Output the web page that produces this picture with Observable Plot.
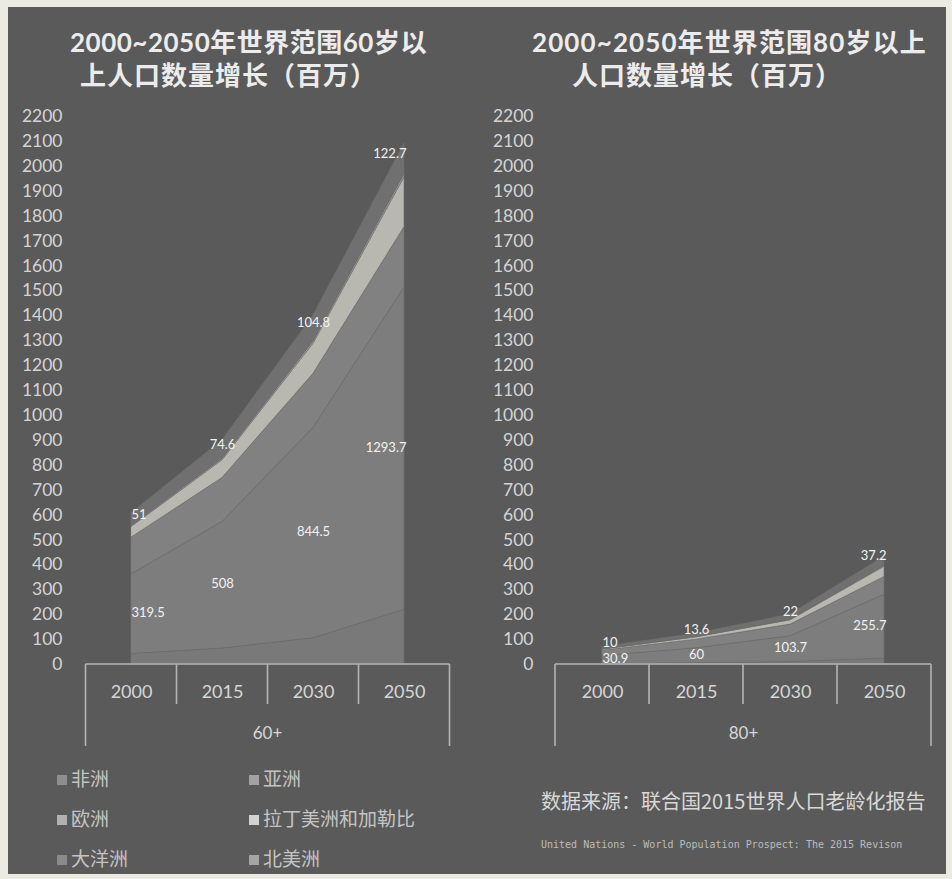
<!DOCTYPE html>
<html><head><meta charset="utf-8">
<script src="https://cdn.jsdelivr.net/npm/d3@7"></script>
<script src="https://cdn.jsdelivr.net/npm/@observablehq/plot@0.6"></script>
<style>
body{margin:0;background:#ebebe3;}
#page{position:relative;width:952px;height:879px;overflow:hidden;background:#ebebe3;}
#panel{position:absolute;left:8px;top:7px;width:938px;height:867px;background:#5a5a5a;}
.plot{position:absolute;top:0;}
.title{position:absolute;font-family:Lato,"Noto Sans CJK SC";font-weight:bold;font-size:26px;color:#ececec;white-space:nowrap;line-height:33px;}
.title span{display:block;}
.leg{position:absolute;font-family:"Noto Sans CJK SC";font-size:19px;color:#c4c4c4;white-space:nowrap;line-height:24px;}
.leg i{display:inline-block;width:10px;height:10px;margin-right:4px;vertical-align:1px;}
.src{position:absolute;font-family:"Noto Sans CJK SC";font-size:20px;color:#d8d8d8;white-space:nowrap;line-height:26px;}
.en{position:absolute;font-family:"DejaVu Sans Mono";font-size:10px;color:#bcbcbc;white-space:nowrap;}
</style></head>
<body><div id="page"><div id="panel"></div></div>
<script>
const years = ["2000", "2015", "2030", "2050"];
const regions = ["非洲", "亚洲", "欧洲", "拉丁美洲和加勒比", "大洋洲", "北美洲"];
// 60岁以上 (百万)
const africa60 = [42.4, 64.4, 105.4, 220.3];
const asia60 = [319.5, 508.0, 844.5, 1293.7];
const europe60 = [147.3, 176.5, 217.2, 242.0];
const latam60 = [42.7, 70.9, 121.0, 200.0];
const oceania60 = [4.1, 6.5, 9.6, 13.2];
const northAmerica60 = [51.0, 74.6, 104.8, 122.7];
// 80岁以上 (百万)
const africa80 = [2.9, 5.2, 9.6, 24.1];
const asia80 = [30.9, 60.0, 103.7, 255.7];
const europe80 = [21.6, 34.6, 46.8, 71.3];
const latam80 = [4.6, 9.5, 17.4, 41.5];
const oceania80 = [0.7, 1.1, 1.8, 3.7];
const northAmerica80 = [10.0, 13.6, 22.0, 37.2];
const yTicks = d3.range(0, 2201, 100);
const colors = ["#797979", "#7d7d7d", "#818181", "#b8b8b0", "#a0a0a0", "#707070"];
const legendColors = ["#8e8e8e", "#a2a2a2", "#b0b0b0", "#d2d2d2", "#8a8a8a", "#a4a4a4"];

function table(series) {
  const rows = [];
  regions.forEach((r, i) => years.forEach((y, j) => rows.push({region: r, year: y, value: series[i][j]})));
  return rows;
}
const data60 = table([africa60, asia60, europe60, latam60, oceania60, northAmerica60]);
const data80 = table([africa80, asia80, europe80, latam80, oceania80, northAmerica80]);

function labelMarks(data, region, dy) {
  const groups = [[["2000"], "start", 0], [["2015", "2030"], "middle", 0], [["2050"], "end", 2]];
  return groups.map(([sel, anchor, dx]) => Plot.text(data, Plot.stackY({
    x: "year", y: "value", z: "region",
    text: d => (d.region === region && sel.includes(d.year)) ? String(d.value).replace(/\.0$/, "") : null,
    textAnchor: anchor, dx, dy, fill: "#f2f2f2", fontSize: 13, fontFamily: "Lato"
  })));
}

function makePlot(data, left, marginLeft, marginRight, group) {
  const W = 476, H = 760;
  const plot = Plot.plot({
    width: W, height: H,
    marginTop: 116, marginBottom: 96, marginLeft, marginRight,
    style: {background: "transparent", color: "#d2d2d2", fontFamily: "Lato", overflow: "visible"},
    x: {type: "point", domain: years, padding: 0.5},
    y: {domain: [0, 2200]},
    color: {domain: regions, range: colors},
    marks: [
      Plot.areaY(data, Plot.stackY({x: "year", y: "value", z: "region", fill: "region", stroke: "#6b6b6b", strokeWidth: 0.6, curve: "linear"})),
      ...labelMarks(data, "亚洲", -1),
      ...labelMarks(data, "北美洲", -5),
      Plot.axisY({ticks: yTicks, tickFormat: d3.format("d"), tickSize: 0, tickPadding: 22, fontSize: 17.5, label: null, fill: "#d4d4d4"}),
      Plot.axisX({tickSize: 0, tickPadding: 21, fontSize: 18, label: null, fill: "#d6d6d6"}),
      Plot.text([group], {text: d => d, frameAnchor: "bottom", lineAnchor: "middle", dy: 69, fontSize: 17, fill: "#d6d6d6"})
    ]
  });
  plot.classList.add("plot");
  plot.style.left = left + "px";
  const x = plot.scale("x"), y = plot.scale("y");
  const step = x.apply(years[1]) - x.apply(years[0]);
  const y0 = y.apply(0);
  const svg = d3.select(plot);
  const g = svg.append("g").attr("stroke", "#b4b4b4").attr("stroke-width", 1.6);
  const x0 = x.apply(years[0]) - step / 2, x1 = x.apply(years[years.length - 1]) + step / 2;
  g.append("line").attr("x1", x0).attr("x2", x1).attr("y1", y0).attr("y2", y0);
  years.forEach((yr, i) => {
    const bx = x.apply(yr) - step / 2;
    g.append("line").attr("x1", bx).attr("x2", bx).attr("y1", y0).attr("y2", i === 0 ? y0 + 82 : y0 + 40);
  });
  g.append("line").attr("x1", x1).attr("x2", x1).attr("y1", y0).attr("y2", y0 + 82);
  document.getElementById("page").appendChild(plot);
}

makePlot(data60, 0, 84, 26, "60+");
makePlot(data80, 476, 79, 21, "80+");

const page = document.getElementById("page");
function addDiv(cls, text, style) {
  const d = document.createElement("div");
  d.className = cls; d.innerHTML = text;
  Object.assign(d.style, style);
  page.appendChild(d);
  return d;
}
addDiv("title", '<span style="letter-spacing:0.5px">2000~2050年世界范围60岁以</span><span style="padding-left:10px;letter-spacing:1px">上人口数量增长（百万）</span>', {left: "70px", top: "26px"});
addDiv("title", '<span style="letter-spacing:1.1px">2000~2050年世界范围80岁以上</span><span style="padding-left:40px;letter-spacing:1px">人口数量增长（百万）</span>', {left: "532px", top: "26px"});

const legendPos = [[57, 766], [249, 766], [57, 806], [249, 806], [57, 846], [249, 846]];
regions.forEach((r, i) => {
  addDiv("leg", `<i style="background:${legendColors[i]}"></i>${r}`, {left: legendPos[i][0] + "px", top: legendPos[i][1] + "px"});
});
addDiv("src", "数据来源：联合国2015世界人口老龄化报告", {left: "541px", top: "788px"});
addDiv("en", "United Nations - World Population Prospect: The 2015 Revison", {left: "541px", top: "839px"});
</script></body></html>
